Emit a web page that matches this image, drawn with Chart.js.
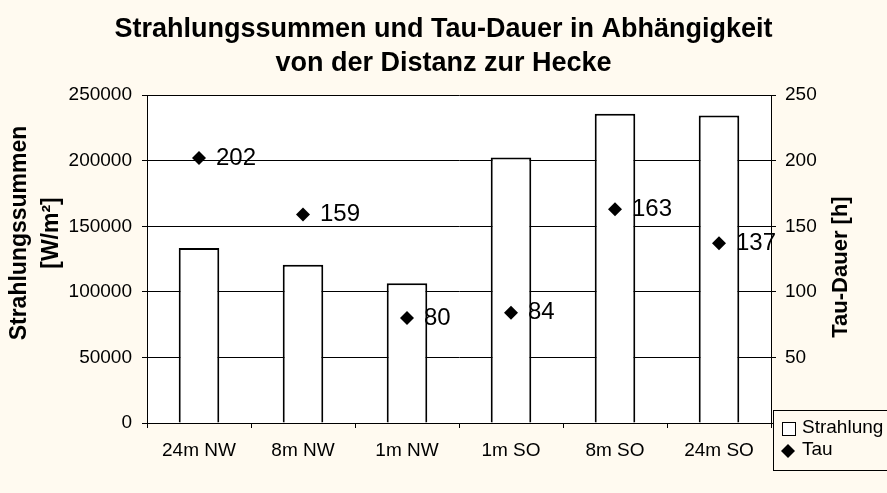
<!DOCTYPE html>
<html lang="de">
<head>
<meta charset="utf-8">
<title>Strahlungssummen und Tau-Dauer</title>
<script src="https://cdn.jsdelivr.net/npm/chart.js@4.4.1/dist/chart.umd.min.js"></script>
<style>
  html, body { margin: 0; padding: 0; background: #fffaf0; }
  #chart { display: block; }
</style>
</head>
<body>
<canvas id="chart" width="887" height="493"></canvas>
<script>
// ── Data ──────────────────────────────────────────────
const distances = ['24m NW', '8m NW', '1m NW', '1m SO', '8m SO', '24m SO'];
const strahlung = [133500, 120700, 106500, 202500, 235800, 234500]; // W/m²
const tau = [202, 159, 80, 84, 163, 137];                              // h
const strahlungTicks = [0, 50000, 100000, 150000, 200000, 250000];
const tauTicks = [0, 50, 100, 150, 200, 250];
const titleLines = ['Strahlungssummen und Tau-Dauer in Abhängigkeit', 'von der Distanz zur Hecke'];

const BG = '#fffaf0';
const FONT = "'Liberation Sans', Arial, sans-serif";
Chart.defaults.font.family = FONT;
Chart.defaults.color = '#000';

// ── Cream page, white plot area ───────────────────────
const backdrop = {
  id: 'backdrop',
  beforeDraw(chart) {
    const { ctx, chartArea: a } = chart;
    ctx.save();
    ctx.fillStyle = BG;
    ctx.fillRect(0, 0, chart.width, chart.height);
    ctx.fillStyle = '#fff';
    ctx.fillRect(a.left, a.top, a.right - a.left, a.bottom - a.top);
    ctx.restore();
  }
};

// ── Value next to each Tau diamond ────────────────────
const pointLabels = {
  id: 'pointLabels',
  afterDatasetsDraw(chart) {
    const ctx = chart.ctx;
    chart.data.datasets.forEach((ds, i) => {
      if (ds.type !== 'line') return;
      const meta = chart.getDatasetMeta(i);
      ctx.save();
      ctx.font = `24px ${FONT}`;
      ctx.fillStyle = '#000';
      ctx.textAlign = 'left';
      ctx.textBaseline = 'middle';
      meta.data.forEach((pt, j) => ctx.fillText(String(ds.data[j]), pt.x + 17, pt.y));
      ctx.restore();
    });
  }
};

// ── Axis titles (both read bottom to top) ─────────────
const axisTitles = {
  id: 'axisTitles',
  afterDraw(chart) {
    const ctx = chart.ctx;
    const drawUp = (lines, x, y, size, gap) => {
      ctx.save();
      ctx.translate(x, y);
      ctx.rotate(-Math.PI / 2);
      ctx.font = `bold ${size}px ${FONT}`;
      ctx.fillStyle = '#000';
      ctx.textAlign = 'center';
      ctx.textBaseline = 'middle';
      lines.forEach((t, i) => ctx.fillText(t, 0, i * gap));
      ctx.restore();
    };
    drawUp(['Strahlungssummen', '[W/m²]'], 20, 233, 23, 32);
    drawUp(['Tau-Dauer [h]'], 841, 267, 22, 0);
  }
};

// ── Legend box in the bottom right corner ─────────────
const legendBox = {
  id: 'legendBox',
  afterDraw(chart) {
    const ctx = chart.ctx;
    const tauSet = chart.data.datasets.find(d => d.type === 'line');
    const barSet = chart.data.datasets.find(d => d.type !== 'line');
    ctx.save();
    ctx.fillStyle = BG;
    ctx.fillRect(773, 410, 130, 60);
    ctx.strokeStyle = '#000';
    ctx.lineWidth = 1;
    ctx.strokeRect(773.5, 410.5, 130, 60);

    // bar swatch
    ctx.fillStyle = '#fff';
    ctx.fillRect(782, 422, 13, 13);
    ctx.strokeRect(782.5, 422.5, 13, 13);

    // diamond swatch
    ctx.fillStyle = '#000';
    ctx.beginPath();
    ctx.moveTo(781, 451);
    ctx.lineTo(788, 444);
    ctx.lineTo(795, 451);
    ctx.lineTo(788, 458);
    ctx.closePath();
    ctx.fill();

    ctx.font = `19px ${FONT}`;
    ctx.textAlign = 'left';
    ctx.textBaseline = 'middle';
    ctx.fillText(barSet.label, 802, 428);
    ctx.fillText(tauSet.label, 802, 450);
    ctx.restore();
  }
};

// ── Chart ─────────────────────────────────────────────
new Chart(document.getElementById('chart'), {
  type: 'bar',
  data: {
    labels: distances,
    datasets: [
      {
        type: 'line',
        label: 'Tau',
        data: tau,
        yAxisID: 'yTau',
        showLine: false,
        pointStyle: 'rectRot',
        pointRadius: 7,
        pointBackgroundColor: '#000',
        pointBorderColor: '#000',
        pointBorderWidth: 0,
        order: 0
      },
      {
        type: 'bar',
        label: 'Strahlung',
        data: strahlung,
        yAxisID: 'y',
        backgroundColor: '#fff',
        borderColor: '#000',
        borderWidth: 2,
        barPercentage: 0.39,
        categoryPercentage: 1,
        order: 1
      }
    ]
  },
  options: {
    responsive: false,
    animation: false,
    layout: { padding: 0 },
    plugins: {
      legend: { display: false },
      tooltip: { enabled: false },
      title: {
        display: true,
        text: titleLines,
        color: '#000',
        font: { size: 27, weight: 'bold', lineHeight: 1.28 },
        padding: { top: 12, bottom: 14 }
      }
    },
    scales: {
      x: {
        grid: { drawOnChartArea: false, offset: true, tickLength: 5, color: '#000' },
        border: { color: '#000' },
        ticks: { color: '#000', font: { size: 19 }, padding: 11, maxRotation: 0 },
        afterFit: s => { s.height = 70; }
      },
      y: {
        position: 'left',
        min: 0,
        max: 250000,
        grid: { color: '#000', tickLength: 5 },
        border: { color: '#000' },
        ticks: { color: '#000', font: { size: 19 }, padding: 10, callback: v => String(v) },
        afterBuildTicks: s => { s.ticks = strahlungTicks.map(v => ({ value: v })); },
        afterFit: s => { s.width = 147; }
      },
      yTau: {
        position: 'right',
        min: 0,
        max: 250,
        grid: { drawOnChartArea: false, tickLength: 5, color: '#000' },
        border: { color: '#000' },
        ticks: { color: '#000', font: { size: 19 }, padding: 9, callback: v => (v === 0 ? '' : String(v)) },
        afterBuildTicks: s => { s.ticks = tauTicks.map(v => ({ value: v })); },
        afterFit: s => { s.width = 116; }
      }
    }
  },
  plugins: [backdrop, pointLabels, axisTitles, legendBox]
});
</script>
</body>
</html>
